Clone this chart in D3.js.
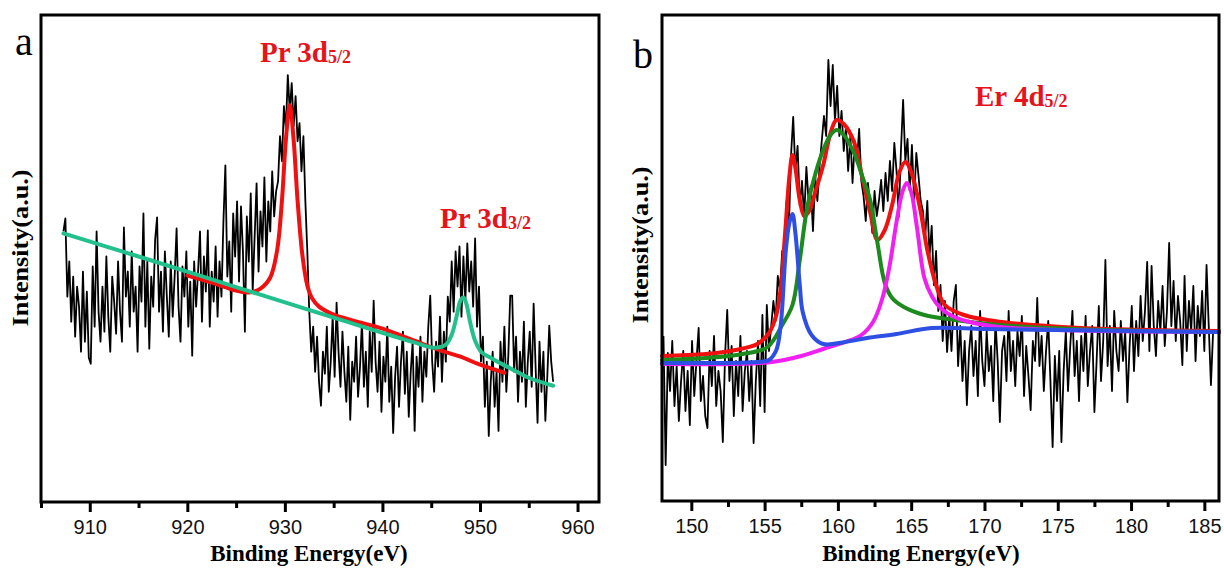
<!DOCTYPE html>
<html>
<head>
<meta charset="utf-8">
<script src="https://cdn.jsdelivr.net/npm/d3@7"></script>
<style>
  body { margin: 0; background: #fff; }
  svg { display: block; }
  .tick text { font-family: "Liberation Sans", Arial, sans-serif; font-size: 20px; fill: #111; }
</style>
</head>
<body>
<svg id="chart" width="1224" height="570"></svg>
<script>
// ---------- panel a : Pr 3d ----------
// raw spectrum, one value every 0.2 eV from 907.3 eV (a.u.)
const rawStartA = 907.3, rawStepA = 0.2;
const rawCountsA = [
  270,283,205,240,180,225,165,215,195,150, 230,160,210,144,138,235,175,270,190,160,
  215,170,245,185,150,225,200,168,240,190, 160,274,205,230,175,250,190,215,150,235,
  200,288,175,240,153,225,195,262,284,190, 230,170,250,205,165,240,185,225,273,195,
  160,235,205,250,175,220,146,240,195,230, 270,180,245,210,271,175,230,200,255,185,
  240,205,280,336,225,260,190,288,245,300, 220,295,250,170,285,240,308,210,265,318,
  230,290,255,324,240,300,270,330,285,310, 320,365,340,395,372,426,390,418,375,405,
  360,378,330,365,300,250,190,150,175,130, 165,120,96,150,128,175,110,140,185,125,
  199,150,115,170,130,100,155,82,140,120, 165,105,135,180,115,150,95,170,130,201,
  140,110,160,90,145,120,175,100,135,69, 125,155,95,140,170,108,150,85,130,160,
  71,145,115,165,100,150,125,175,206,140, 110,160,135,185,120,170,140,205,180,240,
  190,250,215,255,185,245,200,258,210,240, 195,263,175,215,140,165,95,140,66,120,
  150,95,130,71,160,120,175,110,145,206, 206,130,165,100,150,120,180,95,140,170,
  115,198,135,79,160,110,150,81,125,176, 140,120
];
// fitted envelopes [eV, a.u.]
const fitPr52 = [
  [920,226],[922.5,219],[925,211],[926.3,209],[927.5,213],[928.5,224],[929.2,251],
  [929.7,301],[930.1,361],[930.5,396],[930.9,361],[931.3,301],[931.8,246],[932.3,216],
  [932.8,203],[933.5,195],[935,187],[937,181],[940,173],[943,162],[946,151],[948,145],
  [950,137],[952.5,129]
];
const fitPr32 = [
  [907.3,268],[915,245],[925,214.5],[935,184],[943,160],[945.3,154],[946.5,157],
  [947.1,167],[947.6,185],[948.0,201],[948.3,204],[948.6,198],[949.0,179],[949.5,161],
  [950.2,149],[950.9,145],[952,139],[953,134],[955,124],[957.5,116]
];
const majorTicksA = [910, 920, 930, 940, 950, 960];
const minorTicksA = [905, 915, 925, 935, 945, 955];

// ---------- panel b : Er 4d ----------
const rawStartB = 148.1, rawStepB = 0.15;
const rawCountsB = [
  165,36,148,110,160,95,135,80,120,150, 90,130,76,160,105,140,173,100,125,85,
  73,150,115,165,95,130,110,59,145,191, 120,155,85,140,105,165,90,130,150,100,
  140,58,120,160,95,186,89,196,150,175, 200,180,225,210,250,235,300,270,345,384,
  330,355,295,320,284,334,300,315,270,325, 300,335,360,385,365,441,395,436,380,415,
  365,390,350,374,330,365,318,360,340,372, 320,305,280,318,295,268,310,285,300,321,
  290,328,300,340,310,358,330,284,350,401, 340,362,310,356,301,348,325,300,290,262,
  300,245,275,216,250,190,216,160,200,149, 185,150,200,216,135,175,120,160,96,150,
  175,125,160,105,190,140,115,170,130,155, 100,180,140,79,150,165,120,190,130,160,
  115,170,145,185,105,155,125,91,160,140, 203,135,165,110,150,180,120,54,145,100,
  150,59,130,170,110,155,190,125,160,100, 165,130,185,115,150,175,89,140,195,120,
  160,241,135,175,110,190,150,130,180,140, 170,99,155,195,130,180,145,205,160,190,
  239,150,235,175,145,200,170,215,155,190, 258,175,220,160,205,180,136,225,150,200,
  170,215,140,195,165,210,150,236,175,116, 170
];
const fitEnvelopeB = [
  [148,145],[151,147],[153,151],[154.5,157],[155.3,168],[155.8,186],[156.1,213],
  [156.4,268],[156.7,326],[156.9,346],[157.1,333],[157.4,301],[157.7,285],[158.0,289],
  [158.5,311],[159.0,336],[159.5,368],[159.9,381],[160.4,377],[161.1,359],[161.7,321],
  [162.2,289],[162.7,261],[163.2,271],[163.7,296],[164.2,329],[164.6,339],[165.0,329],
  [165.6,293],[166.1,251],[166.7,216],[167.3,196],[168.6,186],[171.2,179],[176.6,173],
  [186,170]
];
const fitPeakGreenB = [
  [148,141],[151,143],[153.5,147],[155.2,154],[156.2,176],[156.9,196],[157.4,241],
  [157.9,293],[158.5,329],[159.0,351],[159.5,366],[159.9,371],[160.4,366],[161.1,348],
  [161.7,323],[162.2,301],[162.7,258],[163.2,218],[163.7,203],[164.5,194],[165.9,186],
  [168,181],[171,176],[176,172],[186,169]
];
const fitPeakMagentaB = [
  [148,137],[153,137],[155.5,139],[157.5,145],[159,152],[160.5,159],[161.6,166],
  [162.4,179],[163.0,201],[163.5,233],[164.0,279],[164.4,309],[164.7,318],[165.0,309],
  [165.4,273],[165.9,223],[166.4,205],[167.0,193],[167.8,185],[169,179],[171,174],
  [175,171],[186,169]
];
const fitPeakBlueB = [
  [148,138],[152,138],[154.5,139],[155.3,141],[155.8,151],[156.1,176],[156.45,251],
  [156.7,279],[156.9,287],[157.1,268],[157.4,216],[157.6,189],[158.2,166],[159,157],
  [160.5,159],[162,163],[164,167],[166.4,173],[170,172],[175,171],[180,170],[186,169]
];
const majorTicksB = [150, 155, 160, 165, 170, 175, 180, 185];
const minorTicksB = [152.5, 157.5, 162.5, 167.5, 172.5, 177.5, 182.5];

const SERIF = '"Liberation Serif", "Times New Roman", serif';
const RED_TEXT = "#e5141c";
const svg = d3.select("#chart");

function drawPanel(p) {
  const x = d3.scaleLinear().domain(p.domain).range([p.left, p.right]);
  const y = d3.scaleLinear().domain([0, 486]).range([p.bottom, p.top]);
  const g = svg.append("g");

  const rawLine = d3.line().x(d => x(d[0])).y(d => y(d[1]));
  const rawPts = p.raw.map((v, i) => [p.rawStart + i * p.rawStep, v]);
  g.append("path")
    .attr("d", rawLine(rawPts))
    .attr("fill", "none")
    .attr("stroke", "#000")
    .attr("stroke-width", 1.8)
    .attr("stroke-linejoin", "round");

  const fitLine = d3.line().x(d => x(d[0])).y(d => y(d[1]))
    .curve(d3.curveCatmullRom.alpha(0.5));
  p.fits.forEach(f => {
    g.append("path")
      .attr("d", fitLine(f.pts))
      .attr("fill", "none")
      .attr("stroke", f.color)
      .attr("stroke-width", 4)
      .attr("stroke-linecap", "round");
  });

  // frame
  g.append("rect")
    .attr("x", p.left).attr("y", p.top)
    .attr("width", p.right - p.left).attr("height", p.bottom - p.top)
    .attr("fill", "none").attr("stroke", "#000").attr("stroke-width", 3);

  // bottom axis, ticks pointing out
  const ax = g.append("g").attr("transform", `translate(0,${p.bottom})`)
    .call(d3.axisBottom(x).tickValues(p.major).tickSize(10).tickSizeOuter(0)
      .tickPadding(8).tickFormat(d3.format("d")));
  ax.select(".domain").remove();
  ax.selectAll(".tick line").attr("stroke-width", 3);

  const mi = g.append("g").attr("transform", `translate(0,${p.bottom})`)
    .call(d3.axisBottom(x).tickValues(p.minor).tickSize(6).tickSizeOuter(0).tickFormat(""));
  mi.select(".domain").remove();
  mi.selectAll(".tick line").attr("stroke-width", 3);

  // axis titles
  g.append("text")
    .attr("x", p.xTitleX).attr("y", 561)
    .attr("text-anchor", "middle")
    .style("font-family", SERIF).style("font-weight", "bold").style("font-size", "23px")
    .text("Binding Energy(eV)");

  g.append("text")
    .attr("transform", `translate(${p.yTitleX},${p.yTitleY}) rotate(-90)`)
    .attr("text-anchor", "middle")
    .attr("textLength", 157).attr("lengthAdjust", "spacingAndGlyphs")
    .style("font-family", SERIF).style("font-weight", "bold").style("font-size", "24px")
    .text("Intensity(a.u.)");

  // panel letter
  g.append("text")
    .attr("x", p.letterX).attr("y", p.letterY)
    .style("font-family", SERIF).style("font-size", "40px")
    .text(p.letter);

  // peak labels
  p.labels.forEach(l => {
    const t = g.append("text")
      .attr("x", l.x).attr("y", l.y)
      .attr("fill", RED_TEXT)
      .style("font-family", SERIF).style("font-weight", "bold").style("font-size", "29px");
    t.append("tspan").text(l.main);
    t.append("tspan").attr("dy", 1).style("font-size", "18px").text(l.sub);
  });
}

drawPanel({
  left: 41, right: 599, top: 15, bottom: 502,
  domain: [905, 962.2],
  raw: rawCountsA, rawStart: rawStartA, rawStep: rawStepA,
  fits: [
    { pts: fitPr52, color: "#f01010" },
    { pts: fitPr32, color: "#22c08c" }
  ],
  major: majorTicksA, minor: minorTicksA,
  xTitleX: 309, yTitleX: 28, yTitleY: 248,
  letter: "a", letterX: 15, letterY: 55,
  labels: [
    { x: 260, y: 62, main: "Pr 3d", sub: "5/2" },
    { x: 440, y: 228, main: "Pr 3d", sub: "3/2" }
  ]
});

drawPanel({
  left: 662, right: 1219, top: 15, bottom: 501,
  domain: [148, 186],
  raw: rawCountsB, rawStart: rawStartB, rawStep: rawStepB,
  fits: [
    { pts: fitEnvelopeB, color: "#f01010" },
    { pts: fitPeakGreenB, color: "#1c8a1c" },
    { pts: fitPeakMagentaB, color: "#f020f0" },
    { pts: fitPeakBlueB, color: "#2d4fe4" }
  ],
  major: majorTicksB, minor: minorTicksB,
  xTitleX: 921, yTitleX: 648, yTitleY: 245,
  letter: "b", letterX: 633, letterY: 68,
  labels: [
    { x: 975, y: 106, main: "Er 4d", sub: "5/2" }
  ]
});
</script>
</body>
</html>
